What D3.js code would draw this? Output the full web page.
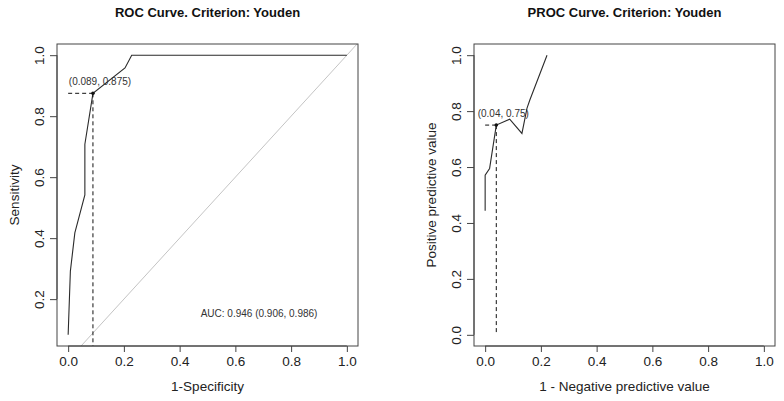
<!DOCTYPE html>
<html>
<head>
<meta charset="utf-8">
<script src="https://cdn.jsdelivr.net/npm/d3@7"></script>
<style>
  body { margin: 0; background: #fff; }
  svg { display: block; font-family: "Liberation Sans", Arial, sans-serif; }
</style>
</head>
<body>
<svg id="chart" width="784" height="401"></svg>
<script>
// ROC curve (1-Specificity vs Sensitivity)
const rocFpr = [0, 0.008, 0.024, 0.060, 0.060, 0.089, 0.204, 0.228, 1];
const rocTpr = [0.083, 0.292, 0.417, 0.542, 0.708, 0.875, 0.958, 1, 1];
const rocOpt = [0.089, 0.875];
const aucText = "AUC: 0.946 (0.906, 0.986)";

// PROC curve (1-NPV vs PPV)
const procX = [0, 0, 0.016, 0.04, 0.088, 0.132, 0.150, 0.160, 0.222];
const procY = [0.444, 0.571, 0.595, 0.75, 0.771, 0.72, 0.81, 0.839, 1];
const procOpt = [0.04, 0.75];

const xTicks = [0, 0.2, 0.4, 0.6, 0.8, 1.0];
const rocYTicks = [0.2, 0.4, 0.6, 0.8, 1.0];
const procYTicks = [0, 0.2, 0.4, 0.6, 0.8, 1.0];

const titles = ["ROC Curve. Criterion: Youden", "PROC Curve. Criterion: Youden"];
const xTitles = ["1-Specificity", "1 - Negative predictive value"];
const yTitles = ["Sensitivity", "Positive predictive value"];

const svg = d3.select("#chart");
const fmt = d3.format(".1f");

// R style 4% extension of the data range
let pad = (lo, hi) => [lo - 0.04 * (hi - lo), hi + 0.04 * (hi - lo)];

function panel(opts) {
  const {left, right, top, bottom} = opts.box;
  const x = d3.scaleLinear().domain(pad(0, 1)).range([left, right]);
  const y = d3.scaleLinear().domain(pad(opts.yMin, 1)).range([bottom, top]);
  const g = svg.append("g");

  const clipId = "clip" + opts.id;
  g.append("clipPath").attr("id", clipId)
    .append("rect")
    .attr("x", left).attr("y", top)
    .attr("width", right - left).attr("height", bottom - top);

  const inner = g.append("g").attr("clip-path", `url(#${clipId})`);

  // diagonale de référence
  if (opts.diag) {
    inner.append("line")
      .attr("x1", x(0)).attr("y1", y(0))
      .attr("x2", x(1.1)).attr("y2", y(1.1))
      .attr("stroke", "#c4c4c4").attr("stroke-width", 1);
  }

  const pts = opts.xs.map((v, i) => [v, opts.ys[i]]);
  inner.append("path")
    .datum(pts)
    .attr("fill", "none")
    .attr("stroke", "#2b2b2b")
    .attr("stroke-width", 1.1)
    .attr("d", d3.line().x(d => x(d[0])).y(d => y(d[1])));

  // pointillés vers les axes
  const [ox, oy] = opts.opt;
  inner.append("line")
    .attr("x1", x(0)).attr("y1", y(oy)).attr("x2", x(ox)).attr("y2", y(oy))
    .attr("stroke", "#111").attr("stroke-dasharray", "4,3");
  inner.append("line")
    .attr("x1", x(ox)).attr("y1", y(oy)).attr("x2", x(ox)).attr("y2", y(0))
    .attr("stroke", "#111").attr("stroke-dasharray", "4,3");

  g.append("circle")
    .attr("cx", x(ox)).attr("cy", y(oy)).attr("r", 1.8)
    .attr("fill", "#111");

  g.append("text")
    .attr("x", x(ox) + 7).attr("y", y(oy) - 8)
    .attr("text-anchor", "middle")
    .style("font-size", "10px").style("fill", "#333")
    .text(`(${ox}, ${oy})`);

  if (opts.note) {
    g.append("text")
      .attr("x", x(0.685)).attr("y", y(0.155) + 4)
      .attr("text-anchor", "middle")
      .style("font-size", "10px").style("fill", "#333")
      .text(opts.note);
  }

  // cadre
  g.append("rect")
    .attr("x", left).attr("y", top)
    .attr("width", right - left).attr("height", bottom - top)
    .attr("fill", "none").attr("stroke", "#444").attr("stroke-width", 1);

  // axes
  const xAxis = g.append("g")
    .attr("transform", `translate(0,${bottom})`)
    .call(d3.axisBottom(x).tickValues(xTicks).tickFormat(fmt).tickSizeInner(6).tickSizeOuter(0).tickPadding(4));
  xAxis.select(".domain").attr("d", `M${x(xTicks[0])},0H${x(xTicks[xTicks.length - 1])}`).attr("stroke", "#444");
  xAxis.selectAll("line").attr("stroke", "#444");
  xAxis.selectAll("text").style("font-size", "13.5px").style("fill", "#222")
    .style("font-family", "'Liberation Sans', Arial, sans-serif");

  const yAxis = g.append("g")
    .attr("transform", `translate(${left},0)`)
    .call(d3.axisLeft(y).tickValues(opts.yTicks).tickFormat(fmt).tickSizeInner(7).tickSizeOuter(0));
  yAxis.select(".domain").attr("d", `M0,${y(opts.yTicks[0])}V${y(opts.yTicks[opts.yTicks.length - 1])}`).attr("stroke", "#444");
  yAxis.selectAll("line").attr("stroke", "#444");
  yAxis.selectAll("text")
    .attr("x", null).attr("dy", null)
    .attr("text-anchor", "middle")
    .attr("transform", "translate(-13,0) rotate(-90)")
    .attr("y", 0)
    .style("font-size", "13.5px").style("fill", "#222")
    .style("font-family", "'Liberation Sans', Arial, sans-serif");

  // titres
  g.append("text")
    .attr("x", (left + right) / 2).attr("y", 16.5)
    .attr("text-anchor", "middle")
    .style("font-size", "13px").style("font-weight", "bold").style("fill", "#111")
    .text(opts.title);

  g.append("text")
    .attr("x", (left + right) / 2).attr("y", 391)
    .attr("text-anchor", "middle")
    .style("font-size", "13.5px").style("fill", "#222")
    .text(opts.xTitle);

  g.append("text")
    .attr("transform", `translate(${left - 38},${(top + bottom) / 2}) rotate(-90)`)
    .attr("text-anchor", "middle")
    .style("font-size", "13.5px").style("fill", "#222")
    .text(opts.yTitle);
}

panel({
  id: 1, box: {left: 57, right: 358, top: 44, bottom: 346},
  yMin: d3.min(rocTpr), xs: rocFpr, ys: rocTpr, opt: rocOpt,
  yTicks: rocYTicks, diag: true, note: aucText,
  title: titles[0], xTitle: xTitles[0], yTitle: yTitles[0]
});

panel({
  id: 2, box: {left: 474, right: 775, top: 44, bottom: 346},
  yMin: 0, xs: procX, ys: procY, opt: procOpt,
  yTicks: procYTicks, diag: false,
  title: titles[1], xTitle: xTitles[1], yTitle: yTitles[1]
});
</script>
</body>
</html>
